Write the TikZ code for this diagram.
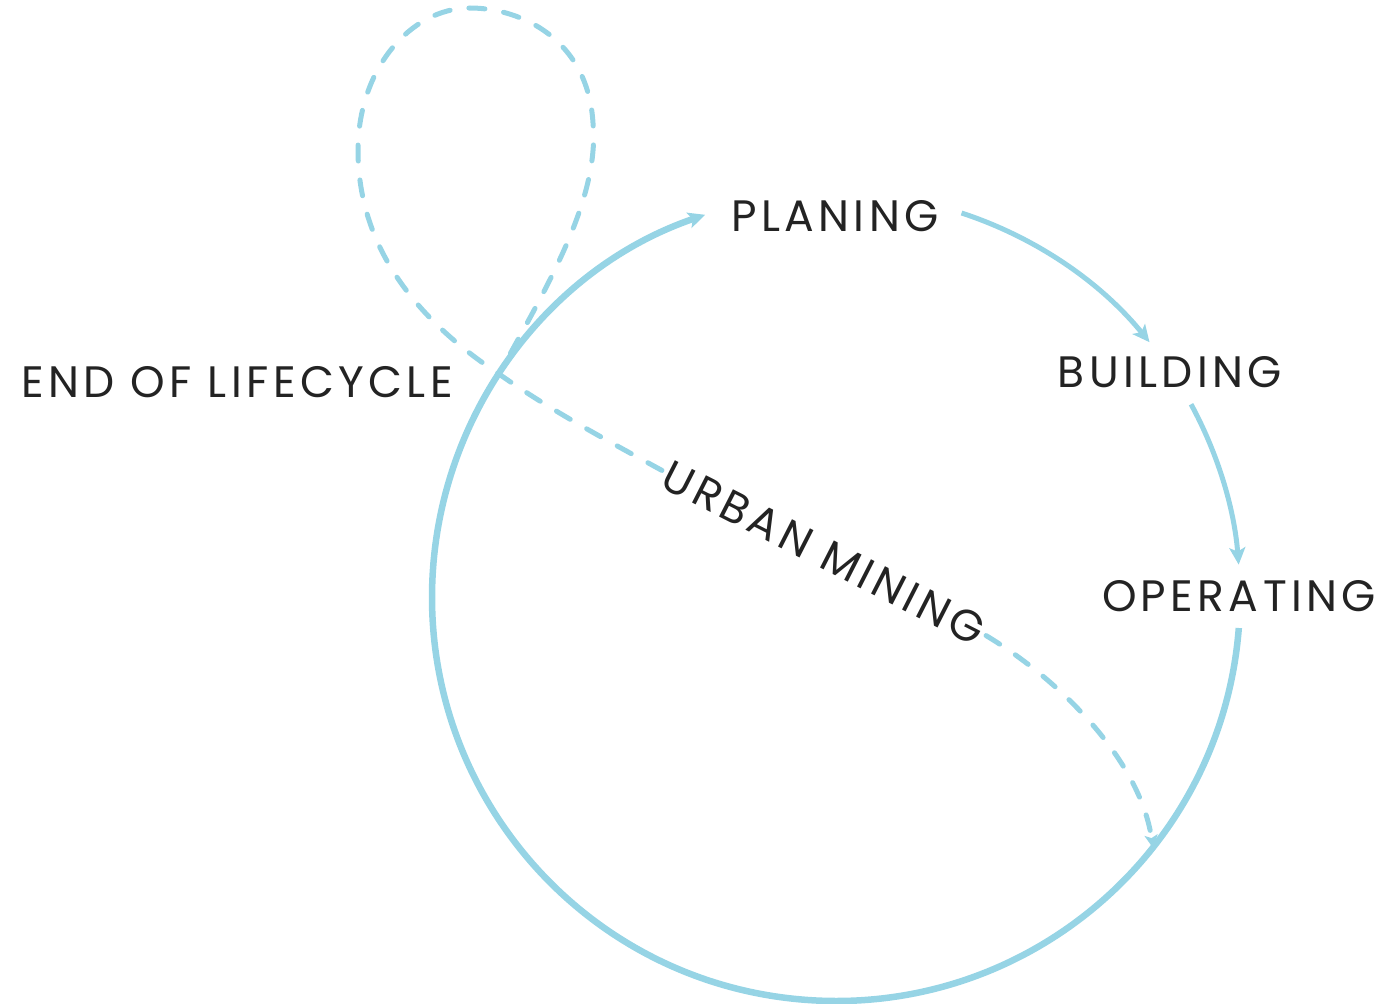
\documentclass[tikz,border=0pt]{standalone}
\usepackage{fontspec}
\setmainfont{Poppins}[LetterSpace=10]
\usetikzlibrary{arrows.meta,calc}
\definecolor{cyc}{RGB}{150,212,229}
\definecolor{txt}{RGB}{35,35,35}
\begin{document}
\begin{tikzpicture}[x=1pt,y=-1pt,
  lbl/.style={font=\fontsize{44}{50}\selectfont, text=txt, inner sep=0pt},
  flow/.style={draw=cyc, line width=5pt, -{Stealth[length=17pt,width=16pt,inset=4pt]}},
  recycle/.style={draw=cyc, line width=5pt, line cap=round, dash pattern=on 16pt off 19pt},
  recyclearrow/.style={recycle, -{Stealth[length=13pt,width=13pt,inset=3pt]}}
]
\useasboundingbox (0,0) rectangle (1380,1003);
\coordinate (c) at (836,597);
\node[lbl] (plan) at (835,216) {PLANING};
\node[lbl] (build) at (1170,372) {BUILDING};
\node[lbl] (oper) at (1239,596) {OPERATING};
\node[lbl] (end) at (237,382) {END OF LIFECYCLE};
\node[lbl, rotate=-27, inner sep=4pt] (urban) at (824,553) {URBAN MINING};
% cycle arcs
\draw[flow] ($(c)+(-71.9:404)$) coordinate (a1s) arc[start angle=-71.9, end angle=-39.1, radius=404];
\draw[flow] ($(c)+(-28.5:404)$) coordinate (a2s) arc[start angle=-28.5, end angle=-4.6, radius=404];
\draw[flow, line width=6.5pt] ($(c)+(4.4:404)$) coordinate (a3s) arc[start angle=4.4, end angle=251.1, radius=404];
% urban mining loop
\coordinate (loopstart) at (499,374);
\draw[recycle] (urban.west) .. controls (610,442) and (550,410) .. (loopstart)
  .. controls (420,322) and (358,250) .. (358,150)
  .. controls (358,70) and (410,8) .. (470,8)
  .. controls (522,8) and (588,40) .. (593,123)
  .. controls (600,200) and (545,290) .. (loopstart);
\coordinate (reentry) at (1153,848);
\draw[recyclearrow] (urban.east) .. controls (1060,680) and (1140,760) .. (reentry);
\end{tikzpicture}
\end{document}
